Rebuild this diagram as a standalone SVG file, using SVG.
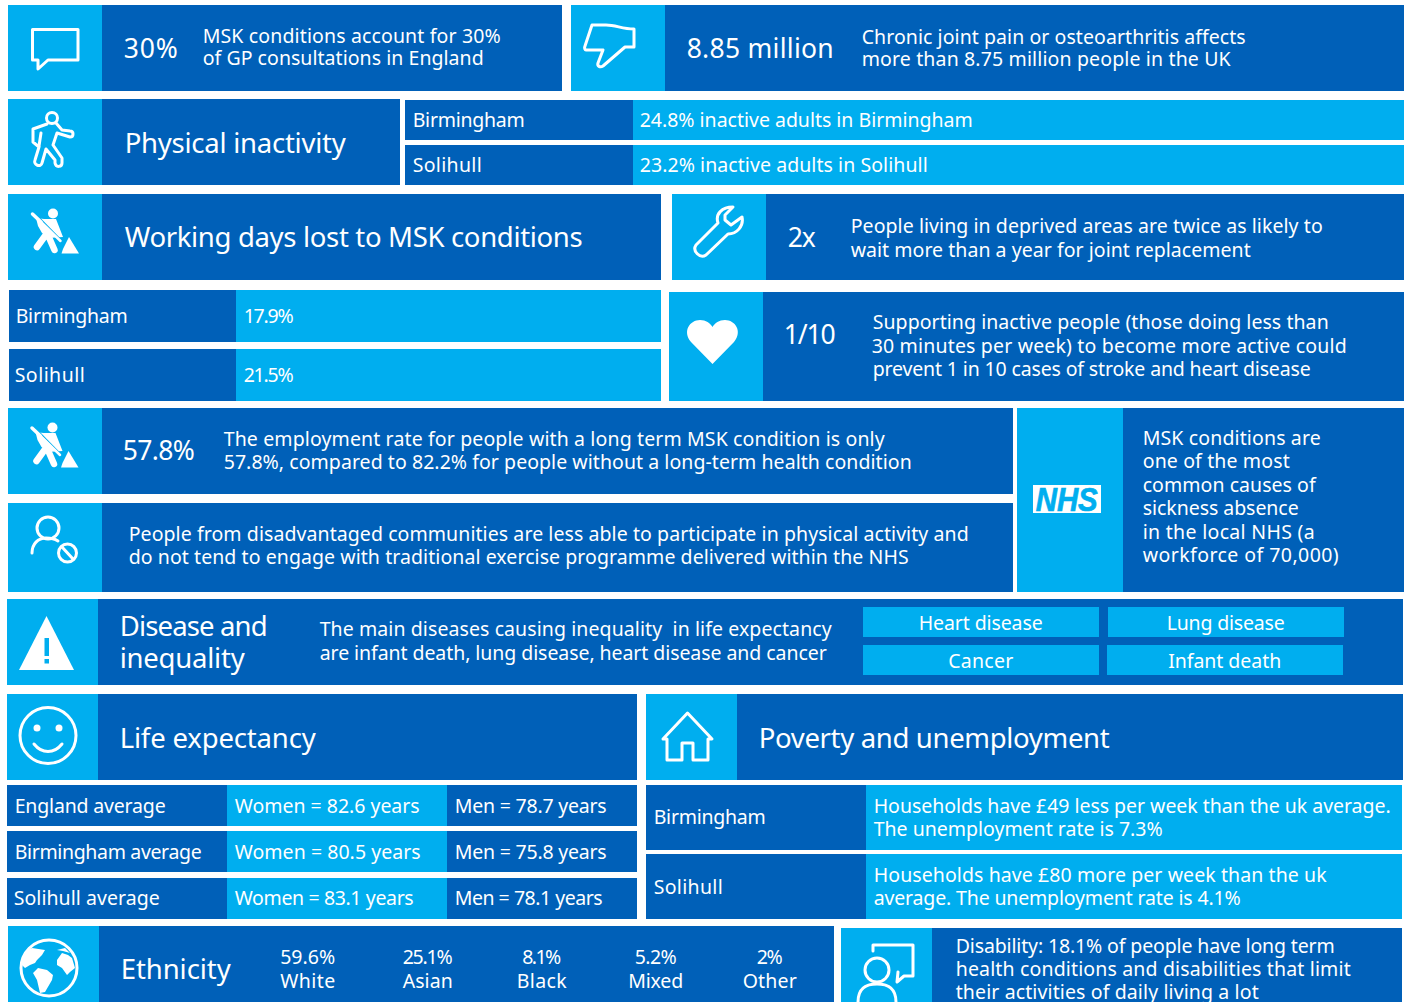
<svg xmlns="http://www.w3.org/2000/svg" width="1407" height="1002" viewBox="0 0 1407 1002">
<style>
.d{fill:#0060b8}.l{fill:#00aeef}
text{font-family:"Noto Sans","Open Sans","Liberation Sans",sans-serif;fill:#fff;font-size:19.5px;transform:translate(-.3px,0)}
.h{font-size:27.5px}.n{font-size:26.5px}.c{text-anchor:middle}
.i{fill:none;stroke:#fff;stroke-width:3;stroke-linejoin:round;stroke-linecap:round}
.f{fill:#fff}
.g{fill:none;stroke:#fff;stroke-width:6.500;stroke-linecap:round}
</style>
<defs>
<g id="digger"><circle cx="53" cy="213.500" r="5" class="f"/>
<path class="f" d="M36 218L44 219H56L63 237L48 238L42 233L38 226z"/>
<path class="g" d="M47.500 234L54.500 250M45 236L37 247"/>
<path fill="none" stroke="#00aeef" stroke-width="1.500" d="M38 216.500L61 240"/>
<path fill="none" stroke="#fff" stroke-width="3.500" stroke-linecap="round" d="M32.500 214L41 222"/>
<path fill="none" stroke="#fff" stroke-width="2.500" stroke-linecap="round" d="M41 222L60.500 241"/>
<path class="f" d="M69 237L79 253.500H61.500L63 249z"/></g>
</defs>
<rect width="1407" height="1002" fill="#fff"/>

<g id="gp"><rect class="l" x="8" y="5" width="94" height="86"/><rect class="d" x="102" y="5" width="460" height="86"/>
<path class="i" d="M32.500 29.500H78V60H48L38 69V60H32.500z"/>
<text class="n" x="124" y="58" textLength="54">30%</text>
<text x="203" y="42.500" textLength="298">MSK conditions account for 30%</text><text x="203" y="65" textLength="281">of GP consultations in England</text></g>

<g id="pain"><rect class="l" x="571" y="5" width="94" height="86"/><rect class="d" x="665" y="5" width="739" height="86"/>
<path class="i" d="M592 25H606C616 25 622 29 634 29V47H625L603 66C600 68 597 66 598 63L603 50H586C585 50 584 48 585 46z"/>
<text class="n" x="687" y="58" textLength="147">8.85 million</text>
<text x="862" y="43.500" textLength="384">Chronic joint pain or osteoarthritis affects</text><text x="862" y="66" textLength="369">more than 8.75 million people in the UK</text></g>

<g id="inactivity"><rect class="l" x="8" y="99" width="94" height="86"/><rect class="d" x="102" y="99" width="298" height="86"/>
<circle class="i" cx="52" cy="118" r="5.500"/>
<path class="i" d="M47 124L33 129V142L39 147L35 160C33 165 41 168 42 163L46 149L55 160V163C56 168 62 167 62 163V158L53 145L57 133L70 137C74 137 74 131 70 131L62 130L56 123"/>
<path class="i" d="M41 133L39 146"/>
<text class="h" x="125" y="153" textLength="221">Physical inactivity</text></g>
<g id="inactive-birmingham"><rect class="d" x="405" y="100" width="228" height="40"/><rect class="l" x="633" y="100" width="771" height="40"/><text x="413" y="127" textLength="112">Birmingham</text><text x="640" y="127" textLength="333">24.8% inactive adults in Birmingham</text></g>
<g id="inactive-solihull"><rect class="d" x="405" y="145" width="228" height="40"/><rect class="l" x="633" y="145" width="771" height="40"/><text x="413" y="172" textLength="69">Solihull</text><text x="640" y="172" textLength="288">23.2% inactive adults in Solihull</text></g>

<g id="working-days"><rect class="l" x="8" y="194" width="94" height="86"/><rect class="d" x="102" y="194" width="559" height="86"/>
<use href="#digger"/>
<text class="h" x="125" y="247" textLength="458">Working days lost to MSK conditions</text></g>
<g id="deprived"><rect class="l" x="672" y="194" width="94" height="86"/><rect class="d" x="766" y="194" width="638" height="86"/>
<path class="i" d="M696 245L718 223C715 214 722 207 733 207L725 215V220L731 225L742 217C744 226 737 234 728 234L706 255C700 259 692 251 696 245z"/>
<text class="n" x="788" y="247" textLength="28">2x</text>
<text x="851" y="233" textLength="472">People living in deprived areas are twice as likely to</text><text x="851" y="257" textLength="400">wait more than a year for joint replacement</text></g>

<g id="days-birmingham"><rect class="d" x="9" y="290" width="227" height="52"/><rect class="l" x="236" y="290" width="425" height="52"/><text x="16" y="323" textLength="112">Birmingham</text><text x="244" y="323" textLength="50">17.9%</text></g>
<g id="days-solihull"><rect class="d" x="9" y="349" width="227" height="52"/><rect class="l" x="236" y="349" width="425" height="52"/><text x="15" y="382" textLength="70">Solihull</text><text x="244" y="382" textLength="50">21.5%</text></g>

<g id="heart"><rect class="l" x="669" y="292" width="94" height="109"/><rect class="d" x="763" y="292" width="641" height="109"/>
<path class="f" d="M712.500 364L691 342C682 331 690 320 700 320C706 320 710 323 712.500 327C715 323 719 320 725 320C735 320 743 331 734 342z"/>
<text class="n" x="784" y="344" textLength="52">1/10</text>
<text x="873" y="329" textLength="456">Supporting inactive people (those doing less than</text><text x="872" y="353" textLength="475">30 minutes per week) to become more active could</text><text x="873" y="376" textLength="438">prevent 1 in 10 cases of stroke and heart disease</text></g>

<g id="employment"><rect class="l" x="8" y="408" width="94" height="86"/><rect class="d" x="102" y="408" width="911" height="86"/>
<use href="#digger" transform="translate(-.5 214)"/>
<text class="n" x="123" y="460" textLength="72">57.8%</text>
<text x="224" y="446" textLength="661">The employment rate for people with a long term MSK condition is only</text><text x="224" y="469" textLength="688">57.8%, compared to 82.2% for people without a long-term health condition</text></g>
<g id="disadvantaged"><rect class="l" x="8" y="503" width="94" height="89"/><rect class="d" x="102" y="503" width="911" height="89"/>
<circle class="i" cx="48" cy="528" r="11"/><path class="i" d="M32 553C32 544 38 538 46 538C51 538 55 539 58 541"/><circle class="i" cx="67.500" cy="553" r="9"/><path class="i" d="M62 547L73 559"/>
<text x="129" y="541" textLength="840">People from disadvantaged communities are less able to participate in physical activity and</text><text x="129" y="564" textLength="780">do not tend to engage with traditional exercise programme delivered within the NHS</text></g>
<g id="nhs"><rect class="l" x="1017" y="408" width="106" height="184"/><rect class="d" x="1123" y="408" width="281" height="184"/>
<rect class="f" x="1033" y="485" width="68" height="28"/>
<text x="1036" y="511" font-weight="700" font-style="italic" style="fill:#00aeef;stroke:#00aeef;stroke-width:.7;font-family:'Liberation Sans',sans-serif;font-size:33px" textLength="62" lengthAdjust="spacingAndGlyphs">NHS</text>
<text x="1143" y="445" textLength="178">MSK conditions are</text><text x="1143" y="468" textLength="147">one of the most</text><text x="1143" y="492" textLength="173">common causes of</text><text x="1143" y="515" textLength="156">sickness absence</text><text x="1143" y="539" textLength="172">in the local NHS (a</text><text x="1143" y="562" textLength="196">workforce of 70,000)</text></g>

<g id="disease"><rect class="l" x="7" y="599" width="91" height="86"/><rect class="d" x="98" y="599" width="1305" height="86"/>
<path class="f" d="M46.500 616L74 670H19z"/><rect x="44.500" y="638" width="4.500" height="18" class="l"/><rect x="44.500" y="659" width="4.500" height="4.500" class="l"/>
<text class="h" x="120" y="636" textLength="148">Disease and</text><text class="h" x="120" y="668" textLength="125">inequality</text>
<text x="320" y="636" textLength="512" xml:space="preserve">The main diseases causing inequality  in life expectancy</text><text x="320" y="660" textLength="507">are infant death, lung disease, heart disease and cancer</text>
<rect class="l" x="863" y="607" width="236" height="30"/><rect class="l" x="1108" y="607" width="236" height="30"/><rect class="l" x="863" y="645" width="236" height="30"/><rect class="l" x="1107" y="645" width="236" height="30"/>
<text class="c" x="981" y="630" textLength="124">Heart disease</text><text class="c" x="1226" y="630" textLength="118">Lung disease</text><text class="c" x="981" y="668" textLength="65">Cancer</text><text class="c" x="1225" y="668" textLength="113">Infant death</text></g>

<g id="life"><rect class="l" x="7" y="694" width="91" height="86"/><rect class="d" x="98" y="694" width="539" height="86"/>
<circle class="i" cx="48" cy="735.500" r="28"/><circle class="f" cx="37" cy="728" r="3.500"/><circle class="f" cx="59" cy="728" r="3.500"/><path class="i" d="M34 744C42 754 54 754 62 744"/>
<text class="h" x="120" y="748" textLength="196">Life expectancy</text></g>
<g id="poverty"><rect class="l" x="646" y="694" width="91" height="86"/><rect class="d" x="737" y="694" width="666" height="86"/>
<path class="i" d="M663 739L687.500 713L712 739H708V760H693V743H682V760H667V739z"/>
<text class="h" x="759" y="748" textLength="351">Poverty and unemployment</text></g>

<g id="england"><rect class="d" x="7" y="785" width="220" height="41"/><rect class="l" x="227" y="785" width="220" height="41"/><rect class="d" x="447" y="785" width="190" height="41"/><text x="15" y="813" textLength="151">England average</text><text x="235" y="813" textLength="185">Women = 82.6 years</text><text x="455" y="813" textLength="152">Men = 78.7 years</text></g>
<g id="birmingham-avg"><rect class="d" x="7" y="831" width="220" height="41"/><rect class="l" x="227" y="831" width="220" height="41"/><rect class="d" x="447" y="831" width="190" height="41"/><text x="15" y="859" textLength="187">Birmingham average</text><text x="235" y="859" textLength="186">Women = 80.5 years</text><text x="455" y="859" textLength="152">Men = 75.8 years</text></g>
<g id="solihull-avg"><rect class="d" x="7" y="878" width="220" height="41"/><rect class="l" x="227" y="878" width="220" height="41"/><rect class="d" x="447" y="878" width="190" height="41"/><text x="14" y="905" textLength="146">Solihull average</text><text x="235" y="905" textLength="179">Women = 83.1 years</text><text x="455" y="905" textLength="148">Men = 78.1 years</text></g>

<g id="poverty-birmingham"><rect class="d" x="646" y="785" width="220" height="65"/><rect class="l" x="866" y="785" width="536" height="65"/><text x="654" y="824" textLength="112">Birmingham</text><text x="874" y="813" textLength="517">Households have £49 less per week than the uk average.</text><text x="874" y="836" textLength="289">The unemployment rate is 7.3%</text></g>
<g id="poverty-solihull"><rect class="d" x="646" y="854" width="220" height="65"/><rect class="l" x="866" y="854" width="536" height="65"/><text x="654" y="894" textLength="69">Solihull</text><text x="874" y="882" textLength="453">Households have £80 more per week than the uk</text><text x="874" y="905" textLength="367">average. The unemployment rate is 4.1%</text></g>

<g id="ethnicity"><rect class="l" x="8" y="926" width="91" height="76"/><rect class="d" x="99" y="926" width="735" height="76"/>
<circle class="i" cx="49" cy="968" r="28"/>
<path class="f" d="M22 958L28 950L32 948L45 950L42 955L37 960L35 963L30 965L25 968L22 965zM33 973L38 968L47 970L53 975L52 980L45 992L40 993L37 980zM57 960L62 953L68 955L72 958L75 968L70 972L67 975L62 968L57 965zM57 950L65 948L70 953L63 951z"/>
<text class="h" x="121" y="979" textLength="110">Ethnicity</text>
<text class="c" x="308" y="964" textLength="55">59.6%</text><text class="c" x="308" y="988" textLength="55">White</text>
<text class="c" x="428" y="964" textLength="50">25.1%</text><text class="c" x="428" y="988" textLength="50">Asian</text>
<text class="c" x="542" y="964" textLength="39">8.1%</text><text class="c" x="542" y="988" textLength="50">Black</text>
<text class="c" x="656" y="964" textLength="42">5.2%</text><text class="c" x="656" y="988" textLength="55">Mixed</text>
<text class="c" x="770" y="964" textLength="26">2%</text><text class="c" x="770" y="988" textLength="54">Other</text></g>
<g id="disability"><rect class="l" x="841" y="928" width="91" height="74"/><rect class="d" x="932" y="928" width="470" height="74"/>
<path class="i" d="M873 951V945H913V976H904L897 982L898 972"/><circle class="i" cx="877" cy="970" r="12"/><path class="i" d="M858 1002C858 988 866 984 877 984C888 984 896 988 896 1002"/>
<text x="956" y="953" textLength="379">Disability: 18.1% of people have long term</text><text x="956" y="976" textLength="395">health conditions and disabilities that limit</text><text x="956" y="999" textLength="303">their activities of daily living a lot</text></g>
</svg>
